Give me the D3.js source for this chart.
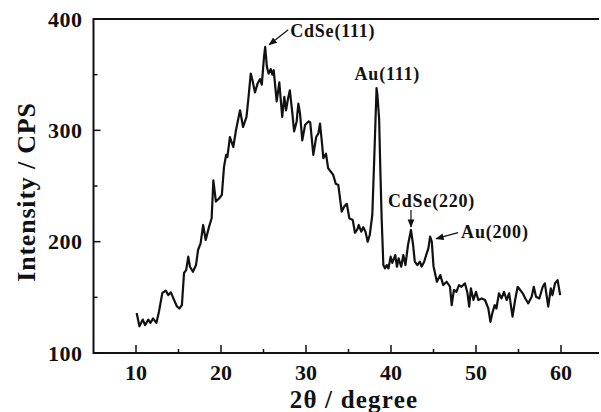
<!DOCTYPE html>
<html>
<head>
<meta charset="utf-8">
<script src="https://cdn.jsdelivr.net/npm/d3@7"></script>
<style>
  html, body { margin: 0; padding: 0; background: #fff; overflow: hidden; }
  svg { display: block; }
  svg text { font-family: "Liberation Serif", "Times New Roman", serif; font-weight: bold; fill: #111; }
</style>
</head>
<body>
<svg id="chart" width="601" height="412"></svg>
<script>
// XRD pattern
const twoTheta = [10.08, 10.4, 10.8, 11.06, 11.45, 11.7, 12.0, 12.4, 12.7, 13.1, 13.5, 13.8, 14.1, 14.4, 14.8, 15.1, 15.4,
  15.65, 15.9, 16.15, 16.35, 16.7, 17.06, 17.3, 17.6, 17.9, 18.2, 18.6, 18.9, 19.1, 19.4, 19.8, 20.1, 20.35, 20.6, 20.75,
  21.05, 21.45, 21.76, 22.24, 22.6, 23.0, 23.2, 23.5, 23.7, 24.0, 24.3, 24.6, 24.8, 25.06, 25.2, 25.4, 25.6, 25.85, 26.04,
  26.2, 26.55, 26.86, 27.2, 27.45, 27.65, 27.9, 28.1, 28.4, 28.6, 28.9, 29.1, 29.3, 29.56, 29.9, 30.3, 30.5, 30.7, 30.86,
  31.2, 31.45, 31.65, 31.85, 32.04, 32.35, 32.6, 32.9, 33.2, 33.5, 33.8, 34.2, 34.5, 34.8, 35.1, 35.5, 35.76, 36.04, 36.2,
  36.5, 36.74, 37.0, 37.26, 37.5, 37.8, 38.03, 38.3, 38.4, 38.6, 38.74, 38.9, 39.1, 39.3, 39.5, 39.7, 39.96, 40.15, 40.5,
  40.7, 40.9, 41.2, 41.45, 41.7, 42.0, 42.35, 42.6, 42.8, 43.1, 43.4, 43.6, 43.9, 44.2, 44.4, 44.6, 44.8, 45.0, 45.4, 45.8,
  46.15, 46.55, 46.94, 47.14, 47.4, 47.7, 48.0, 48.3, 48.7, 49.0, 49.2, 49.4, 49.7, 50.0, 50.27, 50.67, 51.06, 51.45, 51.7,
  51.96, 52.2, 52.4, 52.7, 53.0, 53.3, 53.6, 53.9, 54.3, 54.6, 54.9, 55.2, 55.5, 55.8, 56.15, 56.55, 56.8, 57.06, 57.45,
  57.85, 58.1, 58.5, 58.8, 59.0, 59.3, 59.6, 59.9];
const intensity = [136, 124, 130, 125, 130, 127, 131, 127, 137, 154, 156, 152, 154.5, 149, 142, 140, 143,
  172, 174.5, 186.5, 177.5, 173, 179, 192.5, 198.5, 215, 201.5, 213.5, 221, 255, 236, 239, 242, 267, 278, 276,
  294, 285, 300, 318, 303, 312, 327, 351, 345, 334, 342, 346, 341, 366, 375, 357, 351, 355, 350,
  354, 326, 343, 312, 330, 318, 329, 336, 315, 299, 308, 324, 315, 291, 305, 308, 307, 291, 278,
  294, 297, 306, 291, 275, 279, 266, 263, 260, 252, 251, 227, 231.5, 234, 221, 219.5, 208, 211, 215,
  209, 213, 209, 200, 206, 224, 275, 338, 332, 311, 266, 221, 179, 176, 179, 176, 186.5, 181, 188,
  177.5, 185, 177.5, 188, 179, 197, 210.5, 197, 182, 179, 182, 177.5, 182, 189.5, 194, 204.5, 200, 178, 164, 170,
  161, 164, 159.5, 143, 156.6, 155, 161, 159.5, 162.6, 153.6, 141.6, 158, 147.6, 155, 147.6, 149, 147.6, 140, 128,
  137, 143, 140, 153.6, 149, 155, 147.6, 153.6, 132.6, 147.6, 159.5, 156.6, 153.6, 149, 144.6, 150.6, 159.5, 150.6, 149,
  159.5, 162.6, 141.6, 158, 152, 162.6, 165.5, 152];

const xTicks = [10, 20, 30, 40, 50, 60];
const yTicks = [100, 200, 300, 400];

// peak labels: [label, 2theta, intensity]
const peakLabels = ["CdSe(111)", "Au(111)", "CdSe(220)", "Au(200)"];
const peakTheta = [25.2, 38.3, 42.35, 44.6];
const peakValue = [375, 338, 210.5, 204.5];

const svg = d3.select("#chart");
const margin = {left: 93.5, top: 19, bottom: 353};

const x = d3.scaleLinear().domain([5, 65]).range([margin.left, 603.5]);
const y = d3.scaleLinear().domain([100, 400]).range([margin.bottom, margin.top]);

// frame: left, bottom and top lines only; the right side is cut off in the picture
svg.append("line")
  .attr("x1", x(5)).attr("x2", x(5)).attr("y1", y(400) - 1).attr("y2", y(100) + 1)
  .attr("stroke", "#111").attr("stroke-width", 2);
svg.selectAll("line.hframe").data([400, 100]).join("line")
  .attr("class", "hframe")
  .attr("x1", x(5)).attr("x2", 599).attr("y1", d => y(d)).attr("y2", d => y(d))
  .attr("stroke", "#111").attr("stroke-width", 2);

// x axis ticks (inward)
const xAxis = svg.append("g").attr("transform", "translate(0," + y(100) + ")");
xAxis.selectAll("line.major").data(xTicks).join("line")
  .attr("x1", d => x(d)).attr("x2", d => x(d)).attr("y1", 0).attr("y2", -8)
  .attr("stroke", "#111").attr("stroke-width", 1.5);
xAxis.selectAll("line.minor").data(xTicks.map(d => d + 5).filter(d => d < 62)).join("line")
  .attr("x1", d => x(d)).attr("x2", d => x(d)).attr("y1", 0).attr("y2", -4)
  .attr("stroke", "#111").attr("stroke-width", 1.5);
xAxis.selectAll("text").data(xTicks).join("text")
  .attr("x", d => x(d)).attr("y", 27)
  .attr("text-anchor", "middle").attr("font-size", 22)
  .text(d => d);

// y axis ticks (inward)
const yAxis = svg.append("g").attr("transform", "translate(" + x(5) + ",0)");
yAxis.selectAll("line.major").data(yTicks).join("line")
  .attr("y1", d => y(d)).attr("y2", d => y(d)).attr("x1", 0).attr("x2", 7)
  .attr("stroke", "#111").attr("stroke-width", 1.5);
yAxis.selectAll("line.minor").data(yTicks.slice(0, -1).map(d => d + 50)).join("line")
  .attr("y1", d => y(d)).attr("y2", d => y(d)).attr("x1", 0).attr("x2", 4)
  .attr("stroke", "#111").attr("stroke-width", 1.5);
yAxis.selectAll("text").data(yTicks).join("text")
  .attr("x", -11).attr("y", d => y(d)).attr("dy", "0.35em")
  .attr("text-anchor", "end").attr("font-size", 22).attr("letter-spacing", 0.5)
  .text(d => d);

// axis titles
svg.append("text")
  .attr("x", 354).attr("y", 408)
  .attr("text-anchor", "middle").attr("font-size", 25).attr("letter-spacing", 1.2)
  .text("2θ / degree");
svg.append("text")
  .attr("transform", "translate(35,192) rotate(-90)")
  .attr("text-anchor", "middle").attr("font-size", 26).attr("letter-spacing", 0.8)
  .text("Intensity / CPS");

// pattern
const points = twoTheta.map((t, i) => [t, intensity[i]]);
svg.append("path")
  .datum(points)
  .attr("fill", "none").attr("stroke", "#111").attr("stroke-width", 2.2)
  .attr("stroke-linejoin", "round")
  .attr("d", d3.line().x(d => x(d[0])).y(d => y(d[1])));

// arrowhead
svg.append("defs").append("marker")
  .attr("id", "arrow").attr("viewBox", "0 0 10 10")
  .attr("refX", 9).attr("refY", 5)
  .attr("markerWidth", 7).attr("markerHeight", 7)
  .attr("orient", "auto-start-reverse")
  .append("path").attr("d", "M0,1L10,5L0,9z").attr("fill", "#111");

// label offsets relative to the peak (text x, text baseline, arrow start, arrow end)
const labelLayout = [
  {tx: 25, ty: -10, arrow: [23, -17, 4, -2]},
  {tx: -22, ty: -8, arrow: null},
  {tx: -23, ty: -23, arrow: [0, -20, 0, -3]},
  {tx: 31, ty: 1, arrow: [28, -4, 6, 2]}
];

peakLabels.forEach((label, i) => {
  const px = x(peakTheta[i]), py = y(peakValue[i]);
  const l = labelLayout[i];
  svg.append("text")
    .attr("x", px + l.tx).attr("y", py + l.ty)
    .attr("font-size", 18).attr("letter-spacing", 0.8)
    .text(label);
  if (l.arrow) {
    svg.append("line")
      .attr("x1", px + l.arrow[0]).attr("y1", py + l.arrow[1])
      .attr("x2", px + l.arrow[2]).attr("y2", py + l.arrow[3])
      .attr("stroke", "#111").attr("stroke-width", 1.2)
      .attr("marker-end", "url(#arrow)");
  }
});
</script>
</body>
</html>
